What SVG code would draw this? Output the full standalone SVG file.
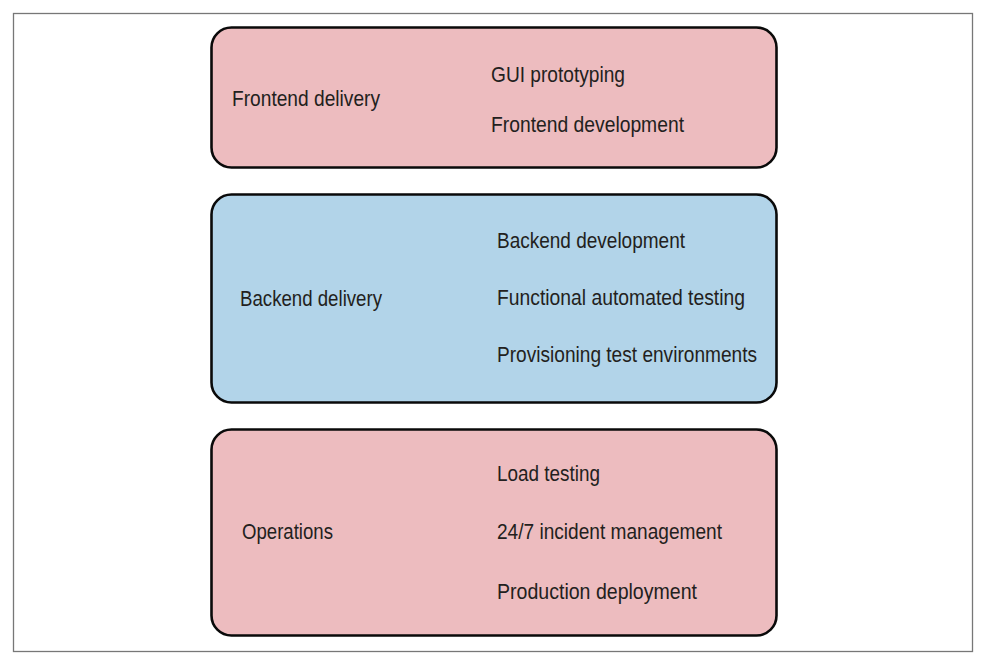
<svg xmlns="http://www.w3.org/2000/svg" width="981" height="661" viewBox="0 0 981 661">
<style>
.box{stroke:#0a0a0a;stroke-width:2.6}
.pink{fill:#edbcbf}
.blue{fill:#b2d4e9}
text{font-family:"Liberation Sans Narrow","Liberation Sans",Arial,sans-serif;font-size:21.5px;fill:#231f20}
</style>
<rect x="0" y="0" width="981" height="661" fill="#fff"/>
<rect x="13.5" y="13.5" width="959" height="638" fill="none" stroke="#777" stroke-width="1.3"/>
<g id="frontend">
<rect class="box pink" x="211.5" y="27.5" width="565" height="140" rx="20"/>
<text x="232" y="106" textLength="148" lengthAdjust="spacingAndGlyphs">Frontend delivery</text>
<text x="491" y="82" textLength="134" lengthAdjust="spacingAndGlyphs">GUI prototyping</text>
<text x="491" y="132" textLength="193" lengthAdjust="spacingAndGlyphs">Frontend development</text>
</g>
<g id="backend">
<rect class="box blue" x="211.5" y="194.5" width="565" height="208" rx="20"/>
<text x="240" y="306" textLength="142" lengthAdjust="spacingAndGlyphs">Backend delivery</text>
<text x="497" y="248" textLength="188" lengthAdjust="spacingAndGlyphs">Backend development</text>
<text x="497" y="305" textLength="248" lengthAdjust="spacingAndGlyphs">Functional automated testing</text>
<text x="497" y="362" textLength="260" lengthAdjust="spacingAndGlyphs">Provisioning test environments</text>
</g>
<g id="operations">
<rect class="box pink" x="211.5" y="429.5" width="565" height="206" rx="20"/>
<text x="242" y="539" textLength="91" lengthAdjust="spacingAndGlyphs">Operations</text>
<text x="497" y="481" textLength="103" lengthAdjust="spacingAndGlyphs">Load testing</text>
<text x="497" y="539" textLength="225" lengthAdjust="spacingAndGlyphs">24/7 incident management</text>
<text x="497" y="599" textLength="200" lengthAdjust="spacingAndGlyphs">Production deployment</text>
</g>
<g id="connectors"/>
</svg>
